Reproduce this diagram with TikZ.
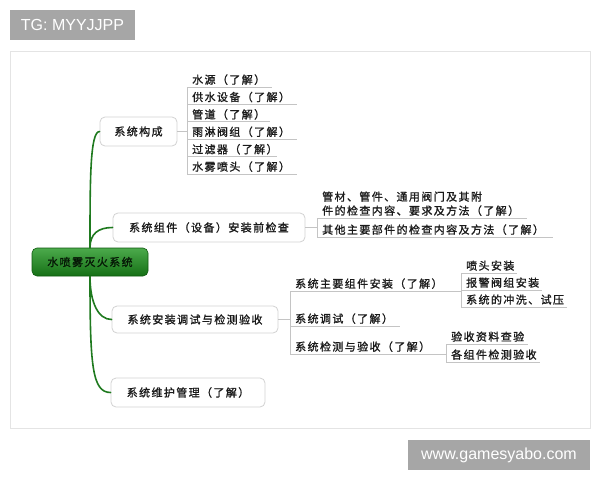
\documentclass[tikz,border=0pt]{standalone}
\usepackage{fontspec}
\newfontfamily\cjkfont[LetterSpace=12.7,FakeBold=1.2]{Noto Sans CJK SC}
\newfontfamily\wmfont{Liberation Sans}
\definecolor{boxline}{HTML}{D2D2D2}
\definecolor{leafgray}{HTML}{C4C4C4}
\definecolor{framegray}{HTML}{E4E4E4}
\definecolor{wmgray}{HTML}{A6A6A6}
\definecolor{txt}{HTML}{1A1A1A}
\definecolor{branchgreen}{HTML}{1F7A1F}
\definecolor{roottop}{HTML}{4CAA4C}
\definecolor{rootbot}{HTML}{157015}
\definecolor{rootline}{HTML}{0F5A0F}
\definecolor{roottext}{HTML}{061806}
\begin{document}
\begin{tikzpicture}[x=1pt,y=-1pt,
  base/.style={font=\cjkfont\fontsize{11}{14}\selectfont, text=txt},
  topic/.style={base, draw=boxline, line width=0.8pt, rounded corners=5pt, fill=white, inner sep=0pt},
  rootnode/.style={base, text=roottext, draw=rootline, line width=0.6pt, rounded corners=5pt,
    top color=roottop, bottom color=rootbot, inner sep=0pt, minimum width=116pt, minimum height=28pt},
  leaf/.style={base, anchor=south west, inner xsep=5pt, inner ysep=1pt, text height=9pt, text depth=2pt, align=left},
  leafline/.style={draw=leafgray, line width=0.8pt},
  branch/.style={draw=branchgreen, line width=1.6pt, line cap=round},
  wmbox/.style={fill=wmgray, text=white, font=\wmfont\fontsize{16}{18}\selectfont, inner sep=0pt, minimum height=30pt},
  frame/.style={draw=framegray, line width=0.8pt, fill=white}]
\useasboundingbox[fill=white] (0,0) rectangle (600,480);
\draw[frame] (10,51) rectangle (590,428);
\node[wmbox, minimum width=125pt] (tg) at (72.5,25) {TG: MYYJJPP};
\node[wmbox, minimum width=182pt] (site) at (499,455) {www.gamesyabo.com};

% root and main topics
\node[rootnode] (root) at (90,262) {水喷雾灭火系统};
\node[topic, minimum width=77pt, minimum height=29pt] (c1) at (138.5,131.5) {系统构成};
\node[topic, minimum width=192pt, minimum height=29pt] (c2) at (209,227.5) {系统组件（设备）安装前检查};
\node[topic, minimum width=166pt, minimum height=27pt] (c3) at (195,319.5) {系统安装调试与检测验收};
\node[topic, minimum width=154pt, minimum height=29pt] (c4) at (188,392.5) {系统维护管理（了解）};

% leaves of c1
\node[leaf, text width=75pt] (l11) at (187,87) {水源（了解）};
\node[leaf, text width=100pt] (l12) at (187,104.4) {供水设备（了解）};
\node[leaf, text width=73pt] (l13) at (187,121.8) {管道（了解）};
\node[leaf, text width=100pt] (l14) at (187,139.2) {雨淋阀组（了解）};
\node[leaf, text width=80pt] (l15) at (187,156.6) {过滤器（了解）};
\node[leaf, text width=100pt] (l16) at (187,174) {水雾喷头（了解）};

% leaves of c2
\node[leaf, text width=200pt, text depth=16pt] (l21) at (317,218) {管材、管件、通用阀门及其附\\件的检查内容、要求及方法（了解）};
\node[leaf, text width=226pt] (l22) at (317,237) {其他主要部件的检查内容及方法（了解）};

% leaves of c3
\node[leaf, text width=161pt] (l31) at (290,291) {系统主要组件安装（了解）};
\node[leaf, text width=100pt] (l32) at (290,326) {系统调试（了解）};
\node[leaf, text width=146pt] (l33) at (290,354) {系统检测与验收（了解）};

% sub-leaves
\node[leaf, text width=46pt] (l311) at (461,273) {喷头安装};
\node[leaf, text width=71pt] (l312) at (461,290) {报警阀组安装};
\node[leaf, text width=96pt] (l313) at (461,307) {系统的冲洗、试压};
\node[leaf, text width=72pt] (l331) at (446,344) {验收资料查验};
\node[leaf, text width=84pt] (l332) at (446,362) {各组件检测验收};

% green branches
\draw[branch] (root.north) .. controls (90,180) and (90,131.5) .. (c1.west);
\draw[branch] (root.north) .. controls (90,234) and (98,227.5) .. (c2.west);
\draw[branch] (root.south) .. controls (90,302) and (98,319.5) .. (c3.west);
\draw[branch] (root.south) .. controls (90,365) and (92,392.5) .. (c4.west);

% gray connectors and brackets
\draw[leafline] (c1.east) -- (c1.east -| l11.south west);
\draw[leafline] (l11.south west) -- (l16.south west);
\draw[leafline] (c2.east) -- (c2.east -| l21.south west);
\draw[leafline] (l21.south west) -- (l22.south west);
\draw[leafline] (c3.east) -- (c3.east -| l31.south west);
\draw[leafline] (l31.south west) -- (l33.south west);
\draw[leafline] (l311.south west) -- (l313.south west);
\draw[leafline] (l331.south west) -- (l332.south west);
\foreach \n in {l11,l12,l13,l14,l15,l16,l21,l22,l31,l32,l33,l311,l312,l313,l331,l332}
  \draw[leafline] (\n.south west) -- (\n.south east);
\end{tikzpicture}
\end{document}
